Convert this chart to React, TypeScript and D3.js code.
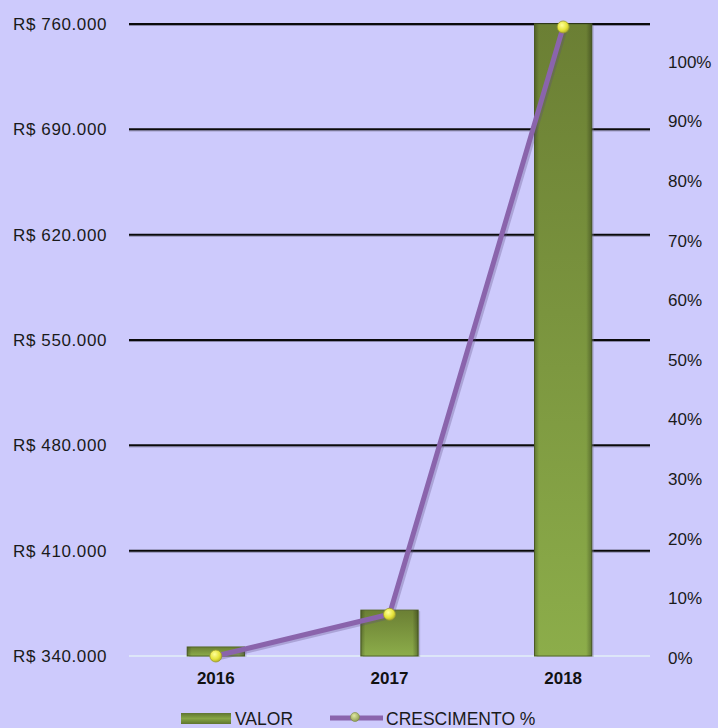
import React from "react";
import * as d3 from "d3";

const categories = ["2016", "2017", "2018"];
const valores = [346000, 370500, 760000];
const crescimento = [0, 0.07, 1.055];
const leftTicks = [340000, 410000, 480000, 550000, 620000, 690000, 760000];
const rightTicks = [0, 0.1, 0.2, 0.3, 0.4, 0.5, 0.6, 0.7, 0.8, 0.9, 1.0];

const W = 718;
const H = 728;
const M = { left: 129, right: 650, top: 24, bottom: 656 };

const fmtBRL = (v: number) => "R$ " + d3.format(",")(v).replace(/,/g, ".");

export default function App() {
  const x = d3
    .scaleBand<string>()
    .domain(categories)
    .range([M.left, M.right])
    .paddingInner(0.67)
    .paddingOuter(0.335);
  const yL = d3.scaleLinear().domain([340000, 760000]).range([M.bottom, M.top]);
  const yR = d3.scaleLinear().domain([0, 1.06]).range([M.bottom, M.top]);

  const line = d3
    .line<number>()
    .x((_, i) => (x(categories[i]) as number) + x.bandwidth() / 2)
    .y((d) => yR(d));

  const font = "'Liberation Sans', Arial, sans-serif";

  return (
    <div style={{ position: "absolute", left: 0, top: 0 }}>
      <svg width={W} height={H} style={{ display: "block" }}>
        <defs>
          <linearGradient id="barG" x1="0" y1="0" x2="0" y2="1">
            <stop offset="0%" stopColor="#6b7f34" />
            <stop offset="100%" stopColor="#8cad4a" />
          </linearGradient>
          <linearGradient id="barEdge" x1="0" y1="0" x2="1" y2="0">
            <stop offset="0%" stopColor="#000" stopOpacity="0.25" />
            <stop offset="8%" stopColor="#000" stopOpacity="0" />
            <stop offset="90%" stopColor="#000" stopOpacity="0" />
            <stop offset="100%" stopColor="#000" stopOpacity="0.3" />
          </linearGradient>
          <radialGradient id="dotG" cx="0.4" cy="0.35" r="0.7">
            <stop offset="0%" stopColor="#ffff9a" />
            <stop offset="60%" stopColor="#e6e43a" />
            <stop offset="100%" stopColor="#a8a82a" />
          </radialGradient>
          <radialGradient id="dotL" cx="0.4" cy="0.35" r="0.7">
            <stop offset="0%" stopColor="#e0e8a0" />
            <stop offset="100%" stopColor="#8a9a50" />
          </radialGradient>
          <linearGradient id="legG" x1="0" y1="0" x2="0" y2="1">
            <stop offset="0%" stopColor="#5f7530" />
            <stop offset="50%" stopColor="#86a545" />
            <stop offset="100%" stopColor="#5f7530" />
          </linearGradient>
        </defs>
        <rect x={0} y={0} width={W} height={H} fill="#cdcafc" />

        {/* gridlines */}
        {leftTicks.map((t, i) =>
          i === 0 ? (
            <line key={t} x1={M.left} x2={M.right} y1={yL(t)} y2={yL(t)} stroke="#dde6f8" strokeWidth={2} />
          ) : (
            <g key={t}>
              <line x1={M.left} x2={M.right} y1={yL(t) + 1.5} y2={yL(t) + 1.5} stroke="#8886a8" strokeWidth={1} />
              <line x1={M.left} x2={M.right} y1={yL(t)} y2={yL(t)} stroke="#0a0a0a" strokeWidth={2} />
            </g>
          )
        )}

        {/* left axis labels */}
        {leftTicks.map((t) => (
          <text
            key={t}
            x={107}
            y={yL(t)}
            dy="0.35em"
            textAnchor="end"
            fontFamily={font}
            fontSize={17}
            letterSpacing={0.6}
            fill="#1a1a1a"
          >
            {fmtBRL(t)}
          </text>
        ))}

        {/* right axis labels */}
        {rightTicks.map((t) => (
          <text
            key={t}
            x={668}
            y={yR(t) + 2}
            dy="0.35em"
            textAnchor="start"
            fontFamily={font}
            fontSize={17}
            fill="#1a1a1a"
          >
            {Math.round(t * 100) + "%"}
          </text>
        ))}

        {/* bars */}
        {valores.map((v, i) => {
          const bx = x(categories[i]) as number;
          const by = yL(v);
          const bh = yL(340000) - by;
          return (
            <g key={categories[i]}>
              <rect x={bx + 2} y={by + 1} width={x.bandwidth()} height={bh} fill="#7a78a0" opacity={0.35} />
              <rect x={bx} y={by} width={x.bandwidth()} height={bh} fill="url(#barG)" stroke="#55682a" strokeWidth={1} />
              <rect x={bx} y={by} width={x.bandwidth()} height={bh} fill="url(#barEdge)" />
            </g>
          );
        })}

        {/* x labels */}
        {categories.map((c) => (
          <text
            key={c}
            x={(x(c) as number) + x.bandwidth() / 2}
            y={678}
            dy="0.35em"
            textAnchor="middle"
            fontFamily={font}
            fontSize={17}
            fontWeight="bold"
            fill="#111"
          >
            {c}
          </text>
        ))}

        {/* line */}
        <path d={line(crescimento) || ""} fill="none" stroke="#5c4a80" strokeOpacity={0.3} strokeWidth={6} transform="translate(1.5,1.5)" />
        <path d={line(crescimento) || ""} fill="none" stroke="#8a64ac" strokeWidth={5} strokeLinejoin="round" />
        {crescimento.map((g, i) => (
          <circle
            key={i}
            cx={(x(categories[i]) as number) + x.bandwidth() / 2}
            cy={yR(g)}
            r={6}
            fill="url(#dotG)"
            stroke="#9a9a30"
            strokeWidth={0.8}
          />
        ))}

        {/* legend */}
        <rect x={181} y={713} width={50} height={11} fill="url(#legG)" />
        <text x={235} y={719} dy="0.35em" fontFamily={font} fontSize={17.5} fill="#1a1a1a">
          VALOR
        </text>
        <line x1={330} x2={383} y1={718} y2={718} stroke="#8a64ac" strokeWidth={5} />
        <circle cx={355} cy={717} r={4.5} fill="url(#dotL)" stroke="#7a8a40" strokeWidth={0.6} />
        <text x={386} y={719} dy="0.35em" fontFamily={font} fontSize={17.5} fill="#1a1a1a">
          CRESCIMENTO %
        </text>
      </svg>
    </div>
  );
}
